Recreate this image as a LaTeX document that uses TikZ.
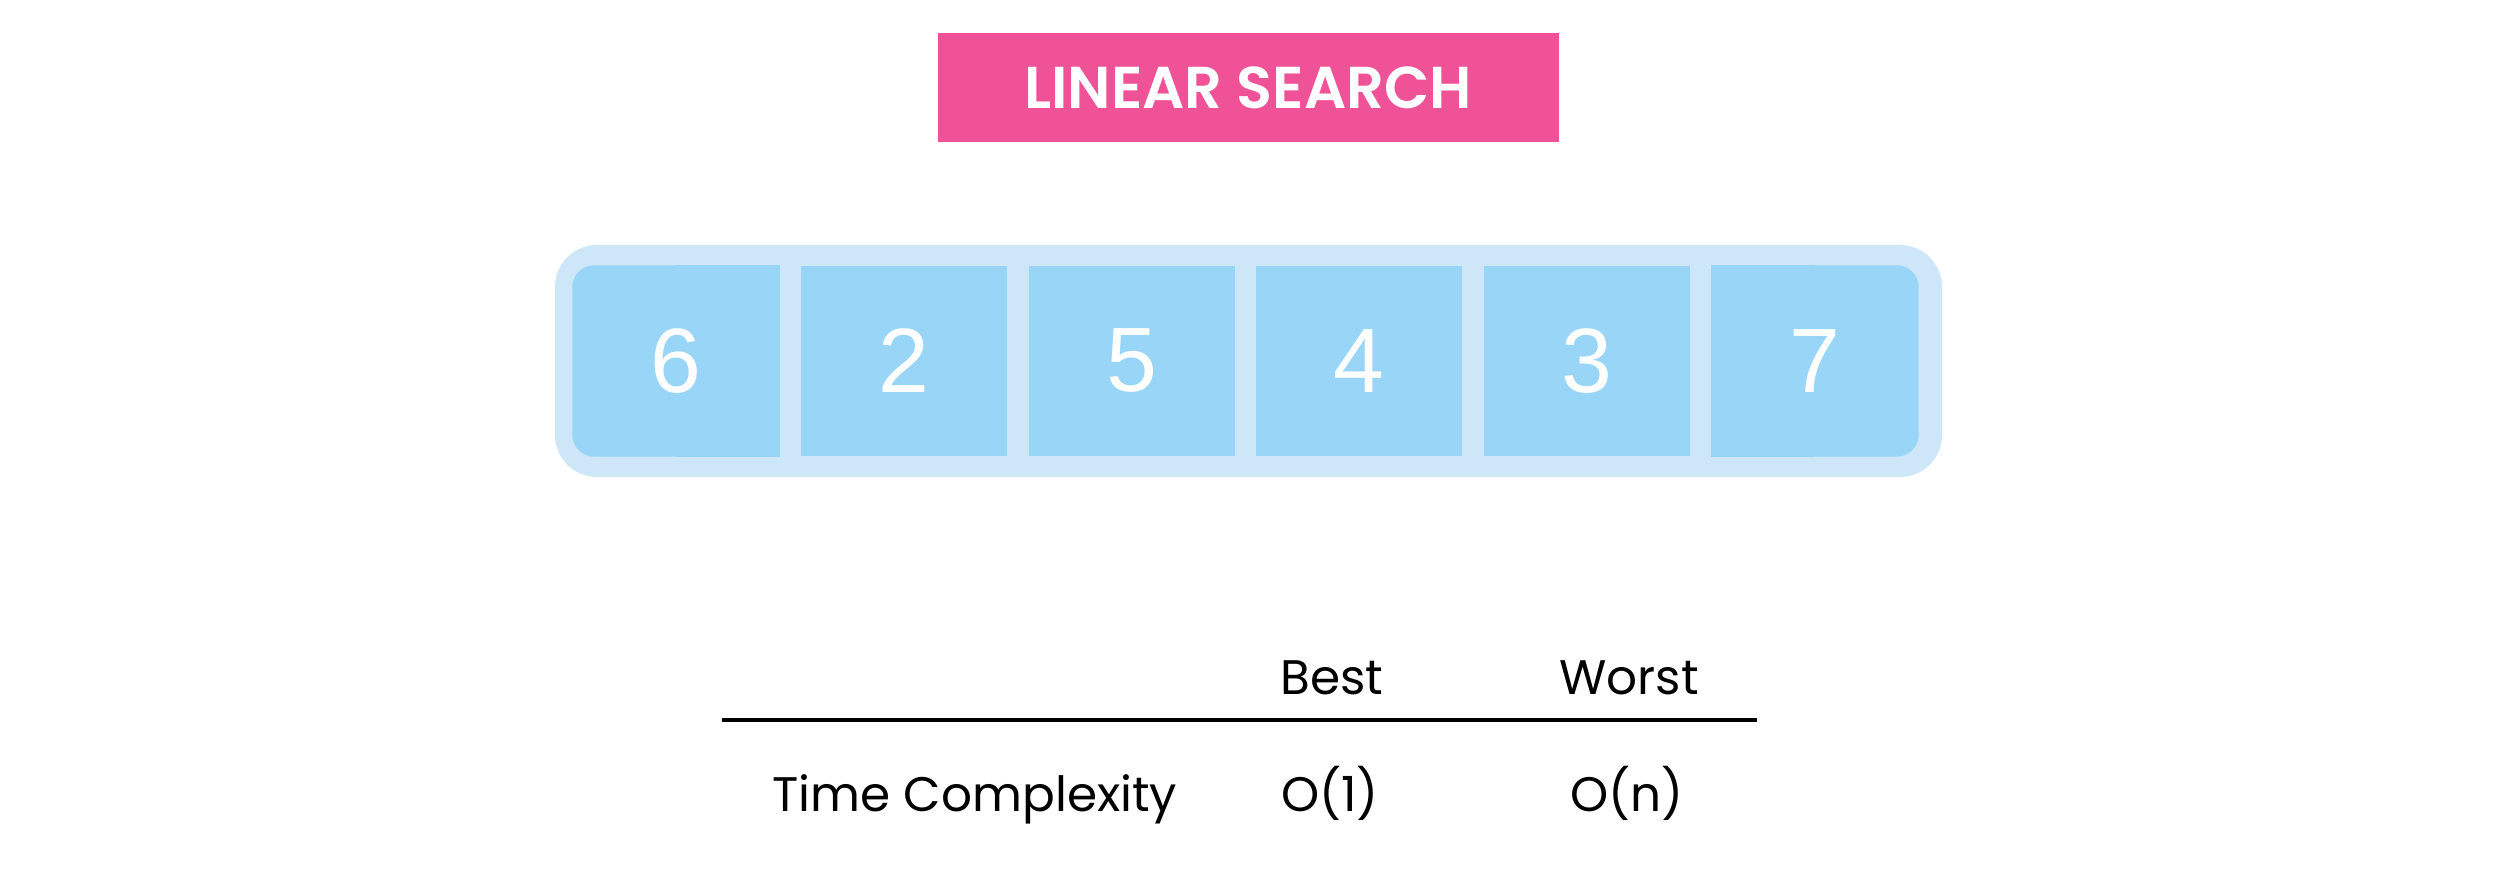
\documentclass[tikz,border=0pt]{standalone}
\usepackage{fontspec}
\setmainfont{Poppins}
\newfontfamily\titlefont{Poppins SemiBold}
\newfontfamily\digitfont{Liberation Sans}
\definecolor{lspink}{RGB}{240,82,152}
\definecolor{lsframe}{RGB}{205,231,249}
\definecolor{lscell}{RGB}{153,213,246}
\usetikzlibrary{positioning}

\begin{document}
\begin{tikzpicture}
  \useasboundingbox (0,0) rectangle (25.16,8.84);

  % title
  \node[fill=lspink, minimum width=6.21cm, minimum height=1.09cm, text=white, font=\titlefont\fontsize{16.8}{20}\selectfont] (title) at (12.48,7.96) {LINEAR SEARCH};

  % array
  \node[fill=lsframe, rounded corners=0.42cm, minimum width=13.87cm, minimum height=2.32cm] (array) at (12.485,5.23) {};
  \foreach \val [count=\i] in {6,2,5,4,3,7} {
    \node[fill=lscell, minimum width=2.06cm, minimum height=1.9cm, text=white, font=\digitfont\fontsize{26}{28}\selectfont] (c\i) at ({6.76+2.278*(\i-1)},5.23) {\val};
  }
  % rounded outer corners of the end cells
  \fill[lsframe] (c1.north west) rectangle (c1.south);
  \fill[lscell, rounded corners=0.22cm] (c1.north west) rectangle (c1.south east);
  \fill[lscell] (c1.north) rectangle (c1.south east);
  \node[text=white, font=\digitfont\fontsize{26}{28}\selectfont] at (c1) {6};
  \fill[lsframe] (c6.north) rectangle (c6.south east);
  \fill[lscell, rounded corners=0.22cm] (c6.north west) rectangle (c6.south east);
  \fill[lscell] (c6.north west) rectangle (c6.south);
  \node[text=white, font=\digitfont\fontsize{26}{28}\selectfont] at (c6) {7};

  % complexity table
  \node[anchor=base, font=\fontsize{13.8}{16}\selectfont] (best) at (13.32,1.89) {Best};
  \node[anchor=base, font=\fontsize{13.8}{16}\selectfont] (worst) at (16.29,1.89) {Worst};
  \coordinate (ruleL) at (7.22,1.64);
  \coordinate (ruleR) at (17.57,1.64);
  \draw[line width=1.1pt] (ruleL) -- (ruleR);
  \node[anchor=base, font=\fontsize{13.8}{16}\selectfont] (time) at (9.75,0.72) {Time Complexity};
  \node[anchor=base, font=\fontsize{13.8}{16}\selectfont] (bestval) at (13.30,0.72) {O(1)};
  \node[anchor=base, font=\fontsize{13.8}{16}\selectfont] (worstval) at (16.27,0.72) {O(n)};
\end{tikzpicture}
\end{document}
